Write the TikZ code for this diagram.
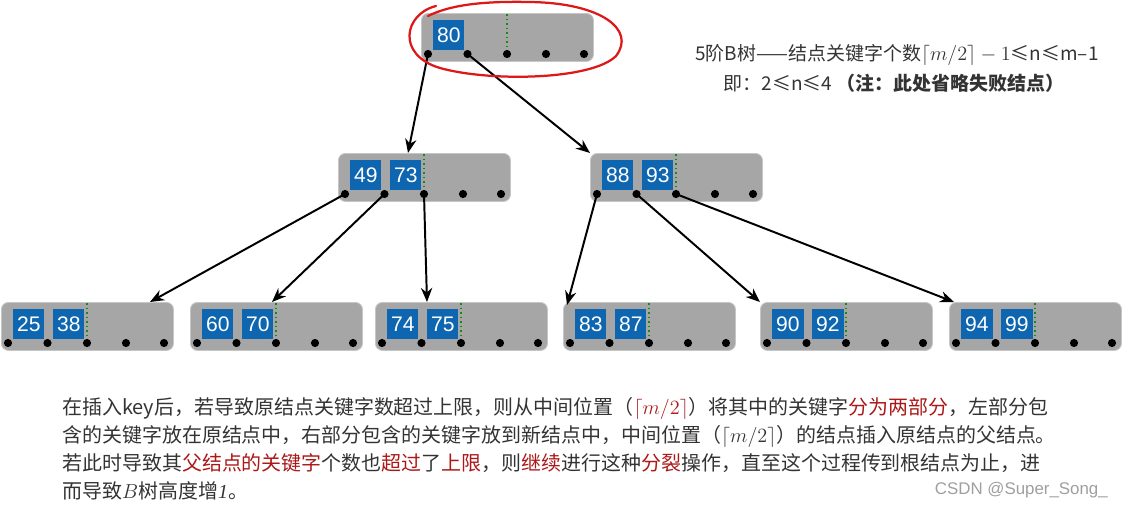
\documentclass[tikz,border=0pt]{standalone}
\usepackage{fontspec}
\setmainfont{Noto Sans CJK SC}
\newfontfamily\keyfont{Liberation Sans}
\newfontfamily\seriffont{Liberation Serif}
\usepackage{amsmath}
\usetikzlibrary{arrows.meta,calc}

\definecolor{keyblue}{RGB}{14,102,176}
\definecolor{boxgray}{RGB}{166,166,166}
\definecolor{rimgray}{RGB}{198,198,198}
\definecolor{textgray}{RGB}{51,51,51}
\definecolor{markred}{RGB}{172,24,24}
\definecolor{loopred}{RGB}{222,24,24}
\definecolor{divgreen}{RGB}{20,140,20}

\tikzset{
  nodebox/.style={rectangle, rounded corners=5pt, fill=boxgray, draw=rimgray, line width=0.6pt,
    minimum width=4.3cm, minimum height=1.2cm, inner sep=0pt, anchor=north west},
  keybox/.style={rectangle, fill=keyblue, text=white, minimum width=0.78cm, minimum height=0.74cm,
    inner sep=0pt, anchor=north west, font=\keyfont\fontsize{15}{15}\selectfont},
  divline/.style={divgreen, dotted, line width=1.2pt},
  ptr/.style={-{Stealth[length=10pt,width=8pt]}, line width=1.4pt, black},
  notetext/.style={text=textgray, inner sep=0pt, font=\fontsize{13.5}{16}\selectfont},
}

% one B-tree node: name, left, top, keys
\newcommand{\btnode}[4]{%
  \node[nodebox] (#1) at (#2,#3) {};
  \foreach \k [count=\j] in {#4}
    \node[keybox] (#1-key\j) at ($(#1.north west)+({12+40*(\j-1)},7)$) {\k};
  \draw[divline] ($(#1.north west)+(86,1)$) -- ($(#1.north west)+(86,41)$);
  \foreach \i/\dx in {1/7,2/46.5,3/86,4/125,5/163}
    \coordinate (#1-\i) at ($(#1.north west)+(\dx,41)$);
  \foreach \i in {1,...,5}
    \fill (#1-\i) circle (2.9pt);
}

\begin{document}
\begin{tikzpicture}[x=0.025cm, y=-0.025cm]
	\useasboundingbox (0,0) rectangle (1123,508);
	
	\btnode{root}{421}{13}{80}
	
	\btnode{n4973}{338}{153}{49,73}
	\btnode{n8893}{590}{153}{88,93}
	
	\btnode{l2538}{1}{302}{25,38}
	\btnode{l6070}{190}{302}{60,70}
	\btnode{l7475}{375}{302}{74,75}
	\btnode{l8387}{563}{302}{83,87}
	\btnode{l9092}{760}{302}{90,92}
	\btnode{l9499}{949}{302}{94,99}
	
	\draw[ptr] (root-1) -- ($(n4973.north west)+(70,0)$);
	\draw[ptr] (root-2) -- (n8893.north west);
	
	\draw[ptr] (n4973-1) -- ($(l2538.north west)+(149,0)$);
	\draw[ptr] (n4973-2) -- ($(l6070.north west)+(82,0)$);
	\draw[ptr] (n4973-3) -- ($(l7475.north west)+(52,0)$);
	\draw[ptr] (n8893-1) -- ($(l8387.north west)+(4,3)$);
	\draw[ptr] (n8893-2) -- (l9092.north west);
	\draw[ptr] (n8893-3) -- ($(l9499.north west)+(5,0)$);
	
	% hand-drawn loop round the root
	\draw[loopred, line width=1.6pt, line cap=round]
	(436,6) .. controls (404,14) and (396,55) .. (440,68)
	.. controls (490,82) and (592,80) .. (616,56)
	.. controls (636,30) and (602,3) .. (530,2)
	.. controls (482,1) and (450,5) .. (428,16);
	
	\node[notetext] (note1) at (897,55) {5阶B树——结点关键字个数$\lceil m/2\rceil - 1$≤n≤m–1};
	\node[notetext] (note2) at (894,83) {即：2≤n≤4 \textbf{（注：此处省略失败结点）}};
	
	\node[anchor=north west, align=left, text=textgray, inner sep=0pt,
	font=\fontsize{14.2}{20}\selectfont] (expl) at (62,397) {%
		在插入key后，若导致原结点关键字数超过上限，则从中间位置（\textcolor{markred}{$\lceil m/2\rceil$}）将其中的关键字\textcolor{markred}{分为两部分}，左部分包\\
		含的关键字放在原结点中，右部分包含的关键字放到新结点中，中间位置（$\lceil m/2\rceil$）的结点插入原结点的父结点。\\
		若此时导致其\textcolor{markred}{父结点的关键字}个数也\textcolor{markred}{超过}了\textcolor{markred}{上限}，则\textcolor{markred}{继续}进行这种\textcolor{markred}{分裂}操作，直至这个过程传到根结点为止，进\\
		而导致$B$树高度增{\seriffont\itshape 1}。};
	
	\node[anchor=east, text=gray!75, inner sep=0pt, font=\keyfont\fontsize{12}{12}\selectfont] (mark) at (1108,490) {CSDN @Super\_Song\_};
	
\end{tikzpicture}
\end{document}
